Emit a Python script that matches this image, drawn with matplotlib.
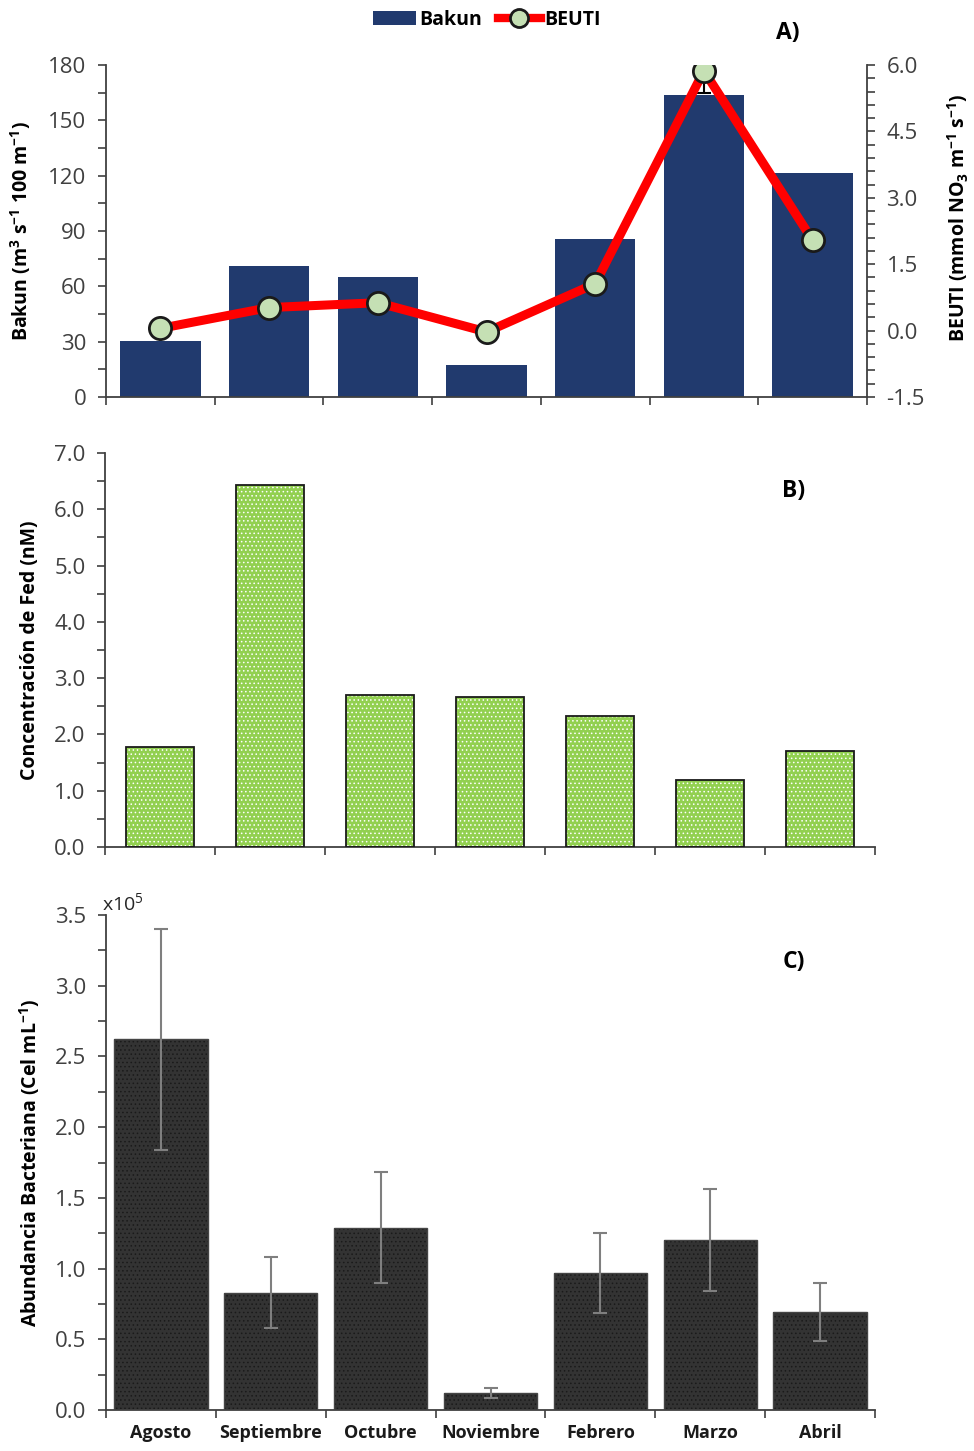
import matplotlib
matplotlib.use("Agg")
import matplotlib.pyplot as plt
import numpy as np
from matplotlib.ticker import MultipleLocator, FormatStrFormatter, FixedLocator, NullFormatter
from matplotlib.patches import Patch
from matplotlib.lines import Line2D

meses = ["Agosto", "Septiembre", "Octubre", "Noviembre", "Febrero", "Marzo", "Abril"]

# panel A
bakun = [30.5, 71, 65, 17.5, 85.5, 163.5, 121.5]
beuti = [0.05, 0.52, 0.63, -0.03, 1.06, 5.87, 2.04]
beuti_err_inf = [0, 0, 0, 0, 0, 0.5, 0]

# panel B
fed = [1.77, 6.43, 2.70, 2.66, 2.32, 1.19, 1.70]

# panel C (x10^5 cel/mL)
abundancia = [2.62, 0.83, 1.29, 0.12, 0.97, 1.20, 0.69]
abundancia_err = [0.78, 0.25, 0.39, 0.035, 0.285, 0.36, 0.205]

plt.rcParams["font.family"] = ["Open Sans", "DejaVu Sans"]
plt.rcParams["mathtext.default"] = "regular"
plt.rcParams["hatch.linewidth"] = 0.6

ticks_color = "#404040"
spine_color = "#404040"
bold_font = dict(family="Open Sans", fontweight="bold")
lbl_font = dict(fontsize=14, color="black", **bold_font)

x = np.arange(len(meses))
bordes = np.arange(len(meses) + 1) - 0.5

fig = plt.figure(figsize=(9.74, 14.51), dpi=100)
W, H = 974.0, 1451.0

def make_ax(l, r, t, b):
    return fig.add_axes([l / W, 1 - b / H, (r - l) / W, (b - t) / H])

def style_ax(ax):
    for s in ["top", "right"]:
        ax.spines[s].set_visible(False)
    for s in ["left", "bottom"]:
        ax.spines[s].set_color(spine_color)
        ax.spines[s].set_linewidth(1.3)
    ax.tick_params(axis="y", which="both", direction="out", length=6, width=1.2,
                   color=spine_color, labelsize=16, labelcolor=ticks_color, pad=8)
    ax.set_xlim(-0.5, len(meses) - 0.5)
    ax.xaxis.set_major_locator(FixedLocator(bordes))
    ax.xaxis.set_major_formatter(NullFormatter())
    ax.tick_params(axis="x", which="major", direction="out", length=6, width=1.2,
                   color=spine_color)

# ---------- A) Bakun + BEUTI ----------
axA = make_ax(106, 867, 65, 397)
style_ax(axA)
axA.bar(x, bakun, width=0.74, color="#213a6e", zorder=2)
axA.set_ylim(0, 180)
axA.yaxis.set_major_locator(MultipleLocator(30))
axA.yaxis.set_minor_locator(MultipleLocator(15))
axA.set_ylabel("Bakun (m$^3$ s$^{-1}$ 100 m$^{-1}$)", **lbl_font)
axA.yaxis.set_label_coords(-0.096, 0.5)

axA2 = axA.twinx()
for s in ["top", "left", "bottom"]:
    axA2.spines[s].set_visible(False)
axA2.spines["right"].set_color(spine_color)
axA2.spines["right"].set_linewidth(1.3)
axA2.set_ylim(-1.5, 6.0)
axA2.yaxis.set_major_locator(MultipleLocator(1.5))
axA2.yaxis.set_minor_locator(MultipleLocator(0.3))
axA2.yaxis.set_major_formatter(FormatStrFormatter("%.1f"))
axA2.tick_params(axis="y", which="both", direction="out", length=6, width=1.2,
                 color=spine_color, labelsize=16, labelcolor=ticks_color, pad=8)
axA2.errorbar(x, beuti, yerr=[beuti_err_inf, [0] * len(x)], fmt="none",
              ecolor="black", elinewidth=1.5, capsize=5, capthick=1.5, zorder=3)
axA2.plot(x, beuti, color="#ff0000", lw=6.5, marker="o", markersize=16,
          markerfacecolor="#c5e0b4", markeredgecolor="#1a1a1a",
          markeredgewidth=2, zorder=4)
axA2.set_ylabel("BEUTI (mmol NO$_3$ m$^{-1}$ s$^{-1}$)", **lbl_font)
axA2.yaxis.set_label_coords(1.103, 0.54)
axA2.text(0.896, 1.097, "A)", transform=axA.transAxes, fontsize=16.5,
          ha="center", va="center", **bold_font)

fig.legend(handles=[Patch(facecolor="#213a6e", edgecolor="none"),
                    Line2D([0], [0], color="#ff0000", lw=6, marker="o", markersize=13,
                           markerfacecolor="#c5e0b4", markeredgecolor="#1a1a1a",
                           markeredgewidth=2)],
           labels=["Bakun", "BEUTI"], loc="center", bbox_to_anchor=(487 / W, 1 - 20 / H),
           ncol=2, frameon=False, handlelength=2.2, handletextpad=0.2,
           columnspacing=0.8, prop=dict(family="Open Sans", weight="bold", size=14))

# ---------- B) Fed ----------
axB = make_ax(105, 875, 453, 847)
style_ax(axB)
axB.bar(x, fed, width=0.61, color="#92d050", edgecolor="white", linewidth=0,
        hatch="....", zorder=2)
axB.bar(x, fed, width=0.61, fill=False, edgecolor="#1a1a1a", linewidth=1.3, zorder=3)
axB.set_ylim(0, 7)
axB.yaxis.set_major_locator(MultipleLocator(1))
axB.yaxis.set_minor_locator(MultipleLocator(0.5))
axB.yaxis.set_major_formatter(FormatStrFormatter("%.1f"))
axB.set_ylabel("Concentración de Fed (nM)", **lbl_font)
axB.yaxis.set_label_coords(-0.084, 0.5)
axB.text(0.894, 0.904, "B)", transform=axB.transAxes, fontsize=16.5,
         ha="center", va="center", **bold_font)

# ---------- C) Abundancia bacteriana ----------
axC = make_ax(106, 875, 915, 1410)
style_ax(axC)
axC.bar(x, abundancia, width=0.85, color="#333333", edgecolor="#1a1a1a", linewidth=0,
        hatch="....", zorder=2)
axC.bar(x, abundancia, width=0.85, fill=False, edgecolor="#454545", linewidth=1.0, zorder=3)
axC.errorbar(x, abundancia, yerr=abundancia_err, fmt="none", ecolor="#7f7f7f",
             elinewidth=1.5, capsize=5, capthick=1.5, zorder=4)
axC.set_ylim(0, 3.5)
axC.yaxis.set_major_locator(MultipleLocator(0.5))
axC.yaxis.set_minor_locator(MultipleLocator(0.25))
axC.yaxis.set_major_formatter(FormatStrFormatter("%.1f"))
axC.set_ylabel("Abundancia Bacteriana (Cel mL$^{-1}$)", **lbl_font)
axC.yaxis.set_label_coords(-0.083, 0.5)
axC.text(-0.005, 1.002, "x10$^5$", transform=axC.transAxes, fontsize=14,
         color="#262626", ha="left", va="bottom")
axC.text(0.894, 0.905, "C)", transform=axC.transAxes, fontsize=16.5,
         ha="center", va="center", **bold_font)
axC.xaxis.set_minor_locator(FixedLocator(x))
axC.set_xticklabels(meses, minor=True, fontsize=13, color="#1a1a1a", **bold_font)
axC.tick_params(axis="x", which="minor", length=0, pad=10)

fig.savefig("out.png", dpi=100)
